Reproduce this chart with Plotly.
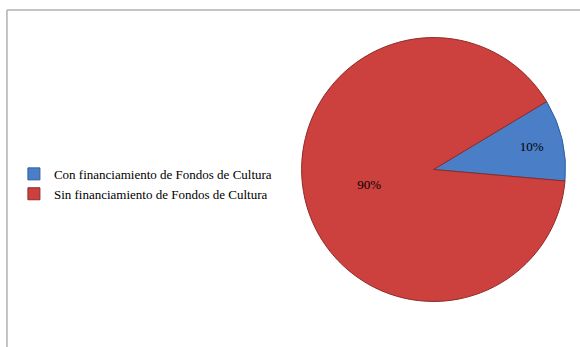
import plotly.graph_objects as go

# Financing source shares
labels = ["Con financiamiento de Fondos de Cultura", "Sin financiamiento de Fondos de Cultura"]
values = [10, 90]
colors = ["#4a7ec6", "#cc413e"]
line_colors = ["#2f5f9e", "#8e2a28"]

SERIF = "Liberation Serif"

fig = go.Figure(
    go.Pie(
        labels=labels,
        values=values,
        sort=False,
        direction="clockwise",
        rotation=59,
        marker=dict(colors=colors, line=dict(color=line_colors, width=1)),
        texttemplate="%{percent:.0%}",
        textposition="inside",
        insidetextorientation="horizontal",
        textfont=dict(family=SERIF, size=13, color="#000000"),
        domain=dict(x=[0.52, 0.975], y=[0.128, 0.895]),
        hoverinfo="label+percent",
    )
)

fig.update_layout(
    width=580,
    height=347,
    margin=dict(l=0, r=0, t=0, b=0),
    paper_bgcolor="white",
    plot_bgcolor="white",
    font=dict(family=SERIF, size=13, color="#000000"),
    legend=dict(
        x=0.024,
        y=0.47,
        xanchor="left",
        yanchor="middle",
        font=dict(family=SERIF, size=13, color="#000000"),
        itemwidth=30,
        tracegroupgap=4,
        bgcolor="rgba(0,0,0,0)",
    ),
    shapes=[
        # frame edges of the chart area
        dict(type="line", xref="paper", yref="paper", x0=0.012, x1=1.0, y0=0.971, y1=0.971,
             line=dict(color="#b0b0b0", width=1.5)),
        dict(type="line", xref="paper", yref="paper", x0=0.012, x1=0.012, y0=0.0, y1=0.971,
             line=dict(color="#b0b0b0", width=1.5)),
    ],
)

fig.write_html("out.html")
